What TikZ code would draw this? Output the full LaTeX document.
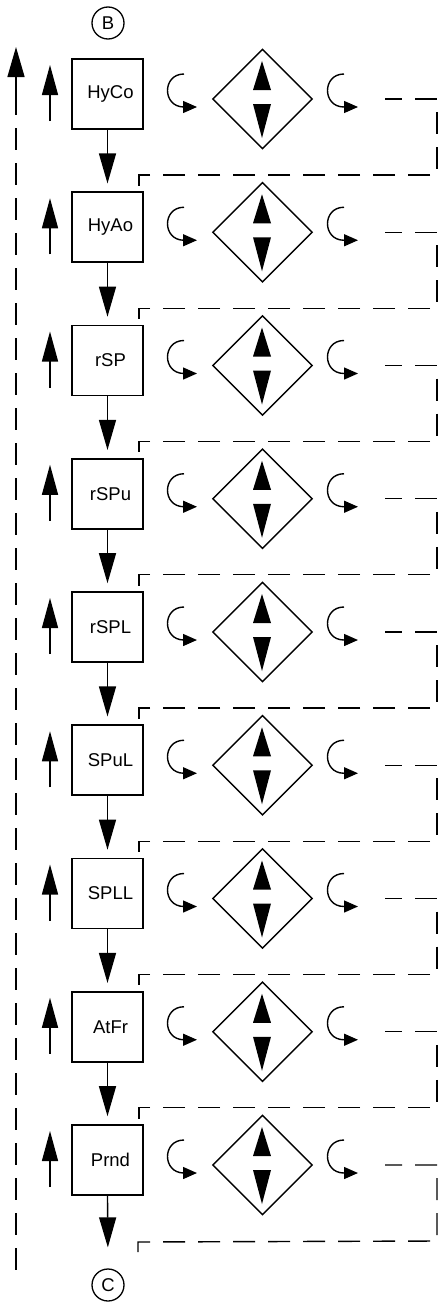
\documentclass[tikz,border=0pt]{standalone}
\usepackage{fontspec}
\setmainfont{Liberation Sans}
\usetikzlibrary{shapes.geometric,arrows.meta}
\newcommand{\bigtxt}{\fontsize{18.5pt}{22pt}\selectfont}
\begin{document}
\begin{tikzpicture}[x=1pt,y=-1pt,
  box/.style={draw, line width=1.6pt, minimum width=71pt, minimum height=70pt, inner sep=0pt},
  dia/.style={draw, diamond, line width=1.4pt, minimum width=100pt, minimum height=100pt, inner sep=0pt},
  circ/.style={draw, circle, line width=1.3pt, minimum size=32pt, inner sep=0pt},
  con/.style={line width=1.4pt},
  dsh/.style={line width=1.4pt, dash pattern=on 22pt off 13pt, dash phase=5pt},
  bigtip/.style={-{Triangle[length=30pt,width=17pt]}},
  curltip/.style={-{Triangle[length=14pt,width=12pt]}},
]
\useasboundingbox (0,0) rectangle (438,1306);
\node[circ] (B) at (108,23) {\bigtxt B};
\node[circ] (C) at (108,1285) {\bigtxt C};
\foreach \t [count=\i] in {HyCo,HyAo,rSP,rSPu,rSPL,SPuL,SPLL,AtFr,Prnd}{
  \pgfmathsetmacro\yc{94+133.25*(\i-1)}
  \node[box] (b\i) at (107.5,\yc) {\bigtxt\hspace*{6pt}\t};
  \node[dia] (d\i) at (262.5,{\yc+5}) {};
  \fill (262,{\yc-33}) -- (271,{\yc-4}) -- (253,{\yc-4}) -- cycle;
  \fill (253,{\yc+10}) -- (271,{\yc+10}) -- (262,{\yc+44}) -- cycle;
  \draw[con,curltip] (184,{\yc-20}) .. controls (162,{\yc-20}) and (162,{\yc+13}) .. (184,{\yc+13}) -- (197,{\yc+13});
  \draw[con,curltip] (344,{\yc-20}) .. controls (322,{\yc-20}) and (322,{\yc+13}) .. (344,{\yc+13}) -- (358,{\yc+13});
  \draw[con,-{Triangle[length=30pt,width=16pt]}] (50,{\yc+27}) -- (50,{\yc-29});
  \coordinate (s\i) at (385,{\yc+5});
}
\foreach \i [evaluate=\i as \j using int(\i+1)] in {1,...,8}{
  \draw[con,bigtip,shorten >=8pt] (b\i.south) -- (b\j.north);
  \path (s\i) ++(0,76) coordinate (m\i);
  \draw[dsh] (s\i) -- ++(52,0) -- ++(0,76) -- ([xshift=-5pt]b\j.north east |- m\i) -- ([xshift=-5pt]b\j.north east);
}
\draw[con,bigtip,shorten >=21pt] (b9.south) -- (C.north);
\coordinate (e9) at (138,1257);
\draw[dsh] (s9) -- ++(52,0) -- ++(0,76) -- (e9 |- 0,1242) -- (e9);
\coordinate (lt) at (16,47);
\coordinate (lm) at (16,93);
\coordinate (lb) at (16,1278);
\draw[con,-{Triangle[length=30pt,width=17pt]}] (lm) -- (lt);
\draw[dsh,dash phase=0pt] (lm) -- (lb);
\end{tikzpicture}
\end{document}
